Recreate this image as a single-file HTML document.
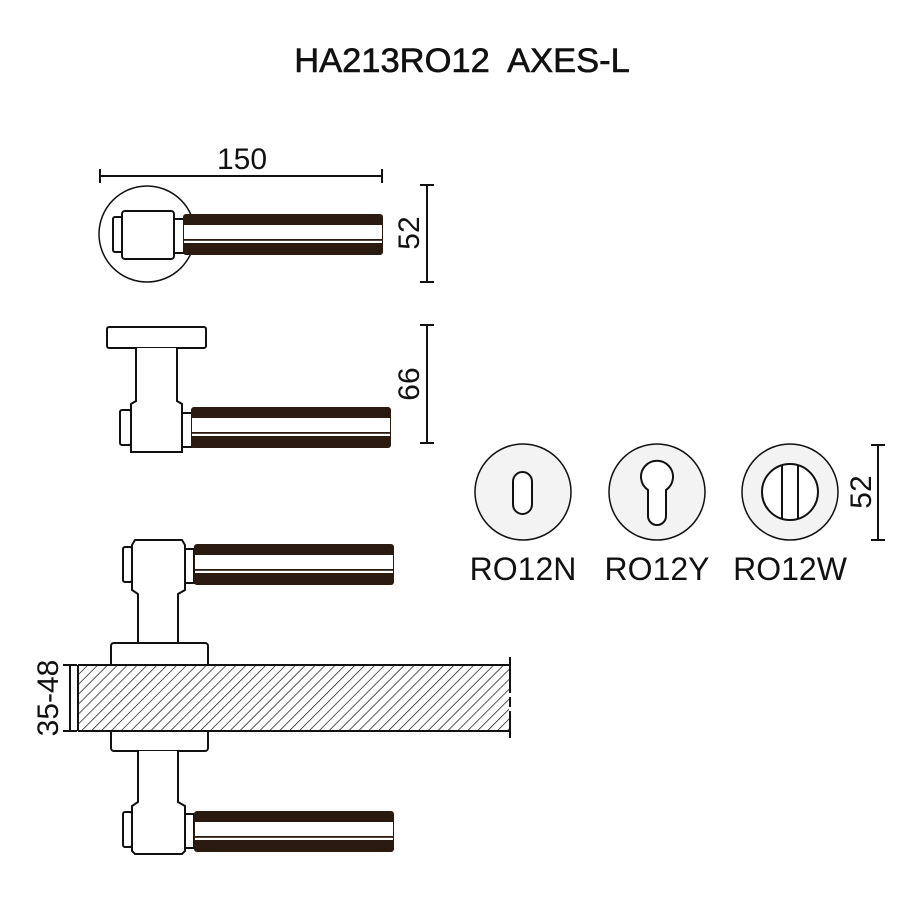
<!DOCTYPE html>
<html><head><style>body{margin:0;background:#fff}svg{display:block}</style></head><body>
<svg width="900" height="900" viewBox="0 0 900 900" xmlns="http://www.w3.org/2000/svg" font-family="Liberation Sans, sans-serif">
<defs>
<pattern id="h" width="7" height="7" patternUnits="userSpaceOnUse" patternTransform="rotate(45)">
<line x1="0" y1="0" x2="0" y2="7" stroke="#111" stroke-width="1.4"/>
</pattern>
<g id="lev" stroke="none">
<rect x="0" y="0" width="200" height="41" rx="3" fill="#2a1a10"/>
<rect x="1" y="11" width="198" height="18" fill="#fff"/>
<rect x="1" y="25" width="198" height="1.8" fill="#2a1a10"/>
</g>
</defs>
<g fill="none" stroke="#111" stroke-width="2">
<text x="462" y="72" font-size="34.5" text-anchor="middle" fill="#111" stroke="#111" stroke-width="0.6" style="white-space:pre">HA213RO12  AXES-L</text>
<!-- top view -->
<line x1="100" y1="176" x2="382" y2="176"/><line x1="100" y1="169" x2="100" y2="183"/><line x1="382" y1="169" x2="382" y2="183"/>
<text x="242" y="169" font-size="30" text-anchor="middle" fill="#111" stroke="none">150</text>
<circle cx="147" cy="234" r="48" stroke-width="1.5"/>
<rect x="113" y="217" width="10" height="35" rx="2" fill="#fff"/>
<rect x="122" y="211" width="52" height="48" rx="3" fill="#fff"/>
<rect x="174" y="219" width="10" height="34" fill="#fff"/>
<use href="#lev" x="183" y="214"/>
<line x1="427" y1="185" x2="427" y2="282"/><line x1="420" y1="185" x2="434" y2="185"/><line x1="420" y1="282" x2="434" y2="282"/>
<text transform="translate(419,233) rotate(-90)" font-size="30" text-anchor="middle" fill="#111" stroke="none">52</text>
<!-- side view -->
<rect x="107" y="327" width="99" height="21" rx="2" fill="#fff"/>
<path d="M136 348 V401 L131 404 V452 H182 V404 L177 401 V348" fill="#fff"/>
<rect x="120" y="410" width="11" height="35" rx="2" fill="#fff"/>
<rect x="182" y="413" width="10" height="34" fill="#fff"/>
<use href="#lev" x="191" y="407"/>
<line x1="427" y1="325" x2="427" y2="443"/><line x1="420" y1="325" x2="434" y2="325"/><line x1="420" y1="443" x2="434" y2="443"/>
<text transform="translate(419,384) rotate(-90)" font-size="30" text-anchor="middle" fill="#111" stroke="none">66</text>
<!-- bottom assembly -->
<path d="M132 590 V545 L135 540 H182 L185 545 V590 L178 594 V643 H138 V594 Z" fill="#fff"/>
<rect x="123" y="547" width="9" height="35" rx="2" fill="#fff"/>
<rect x="185" y="549" width="9" height="34" fill="#fff"/>
<use href="#lev" x="194" y="544"/>
<rect x="111" y="643" width="97" height="24" rx="3" fill="#fff"/>
<rect x="111" y="729" width="97" height="22" rx="3" fill="#fff"/>
<path d="M138 751 V802 L132 806 V851 L135 854 H182 L185 851 V806 L178 802 V751" fill="#fff"/>
<rect x="123" y="812" width="9" height="35" rx="2" fill="#fff"/>
<rect x="185" y="814" width="9" height="34" fill="#fff"/>
<use href="#lev" x="194" y="811"/>
<rect x="78" y="665" width="431" height="66" fill="#fff" stroke="none"/>
<rect x="78" y="665" width="431" height="66" fill="url(#h)" stroke="none"/>
<line x1="78" y1="665" x2="509" y2="665"/><line x1="78" y1="731" x2="509" y2="731"/><line x1="78" y1="665" x2="78" y2="731"/>
<line x1="510" y1="657" x2="510" y2="693"/><line x1="510" y1="697" x2="510" y2="707"/><line x1="510" y1="711" x2="510" y2="738"/>
<line x1="70" y1="665" x2="70" y2="731"/><line x1="63" y1="665" x2="77" y2="665"/><line x1="63" y1="731" x2="77" y2="731"/>
<text transform="translate(58,698) rotate(-90)" font-size="30" text-anchor="middle" fill="#111" stroke="none">35-48</text>
<!-- roses -->
<circle cx="523" cy="492" r="48" fill="#f3f3f3" stroke-width="1.5"/>
<rect x="513" y="472" width="19" height="42" rx="9.5" fill="#fff"/>
<circle cx="657" cy="492" r="48" fill="#f3f3f3" stroke-width="1.5"/>
<path d="M648 490 A16 16 0 1 1 666 490 V516 A9 9 0 0 1 648 516 Z" fill="#fff"/>
<circle cx="790" cy="492" r="48" fill="#f3f3f3" stroke-width="1.5"/>
<circle cx="790" cy="492" r="28" fill="#fff"/>
<line x1="782" y1="465" x2="782" y2="519"/><line x1="798" y1="465" x2="798" y2="519"/>
<line x1="878" y1="445" x2="878" y2="540"/><line x1="871" y1="445" x2="885" y2="445"/><line x1="871" y1="540" x2="885" y2="540"/>
<text transform="translate(871,492) rotate(-90)" font-size="30" text-anchor="middle" fill="#111" stroke="none">52</text>
<g font-size="32" text-anchor="middle" fill="#111" stroke="none">
<text x="523" y="580">RO12N</text><text x="657" y="580">RO12Y</text><text x="790" y="580">RO12W</text>
</g>
</g>
</svg>
</body></html>
